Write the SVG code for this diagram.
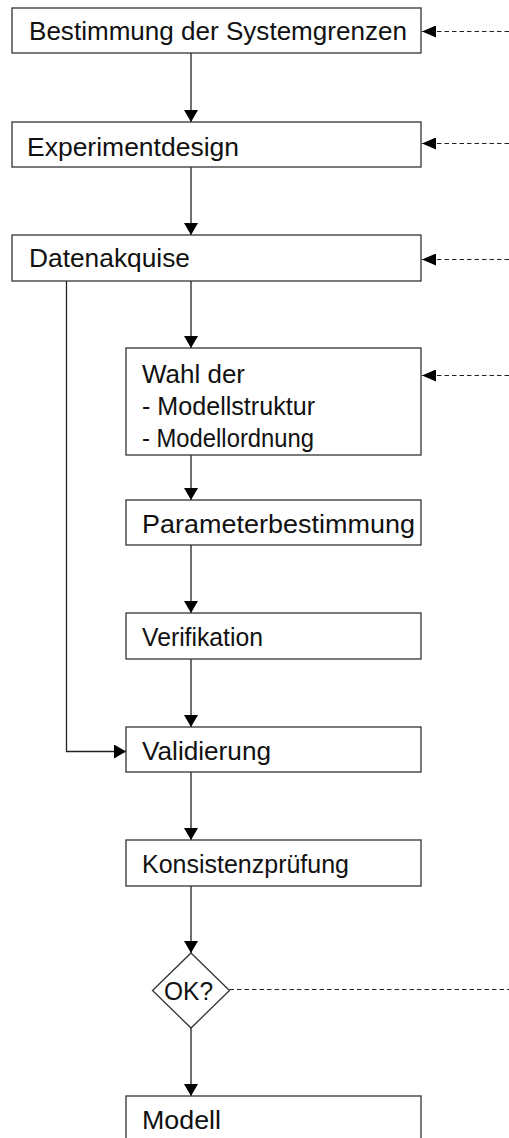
<svg xmlns="http://www.w3.org/2000/svg" width="509" height="1138" viewBox="0 0 509 1138">
  <style>
    .box { fill: #ffffff; stroke: #333333; stroke-width: 1.3; }
    .lbl { font-family: "Liberation Sans", Arial, sans-serif; font-size: 25px; fill: #111111; }
    .flow { fill: none; stroke: #222222; stroke-width: 1.3; }
    .back { fill: none; stroke: #222222; stroke-width: 1.1; stroke-dasharray: 4.5 3; }
  </style>
  <defs>
    <marker id="arrow" viewBox="0 0 12 14" refX="12" refY="7" markerWidth="12" markerHeight="14" markerUnits="userSpaceOnUse" orient="auto">
      <path d="M0,0 L12,7 L0,14 Z" fill="#000000"/>
    </marker>
    <marker id="arrowBack" viewBox="0 0 14 12" refX="14" refY="6" markerWidth="14" markerHeight="12" markerUnits="userSpaceOnUse" orient="auto">
      <path d="M0,0 L14,6 L0,12 Z" fill="#000000"/>
    </marker>
  </defs>

  <rect width="509" height="1138" fill="#ffffff"/>

  <!-- connectors -->
  <g id="connectors">
    <line class="flow" x1="191" y1="53" x2="191" y2="122" marker-end="url(#arrow)"/>
    <line class="flow" x1="191" y1="167" x2="191" y2="235" marker-end="url(#arrow)"/>
    <line class="flow" x1="191" y1="281" x2="191" y2="348" marker-end="url(#arrow)"/>
    <line class="flow" x1="191" y1="455" x2="191" y2="500" marker-end="url(#arrow)"/>
    <line class="flow" x1="191" y1="545" x2="191" y2="613" marker-end="url(#arrow)"/>
    <line class="flow" x1="191" y1="659" x2="191" y2="727" marker-end="url(#arrow)"/>
    <line class="flow" x1="191" y1="772" x2="191" y2="840" marker-end="url(#arrow)"/>
    <line class="flow" x1="191" y1="886" x2="191" y2="953" marker-end="url(#arrow)"/>
    <line class="flow" x1="191" y1="1028" x2="191" y2="1096" marker-end="url(#arrow)"/>
    <polyline class="flow" points="66.5,281 66.5,751.5 126,751.5" marker-end="url(#arrow)"/>

    <!-- feedback paths -->
    <line class="back" x1="509" y1="31.5" x2="422" y2="31.5" marker-end="url(#arrowBack)"/>
    <line class="back" x1="509" y1="143.5" x2="422" y2="143.5" marker-end="url(#arrowBack)"/>
    <line class="back" x1="509" y1="259.5" x2="422" y2="259.5" marker-end="url(#arrowBack)"/>
    <line class="back" x1="509" y1="375.5" x2="422" y2="375.5" marker-end="url(#arrowBack)"/>
    <line class="back" x1="229.5" y1="989.5" x2="509" y2="989.5"/>
  </g>

  <g id="systemgrenzen">
    <rect class="box" x="12" y="8" width="409" height="45"/>
    <text class="lbl" x="29" y="40" textLength="378" lengthAdjust="spacingAndGlyphs">Bestimmung der Systemgrenzen</text>
  </g>

  <g id="experimentdesign">
    <rect class="box" x="12" y="122" width="409" height="45"/>
    <text class="lbl" x="27" y="156" textLength="212" lengthAdjust="spacingAndGlyphs">Experimentdesign</text>
  </g>

  <g id="datenakquise">
    <rect class="box" x="12" y="235" width="409" height="46"/>
    <text class="lbl" x="29" y="267" textLength="161" lengthAdjust="spacingAndGlyphs">Datenakquise</text>
  </g>

  <g id="modellwahl">
    <rect class="box" x="126" y="348" width="295" height="107"/>
    <text class="lbl" x="142" y="383" textLength="103" lengthAdjust="spacingAndGlyphs">Wahl der</text>
    <text class="lbl" x="142" y="415" textLength="173" lengthAdjust="spacingAndGlyphs">- Modellstruktur</text>
    <text class="lbl" x="142" y="447" textLength="172" lengthAdjust="spacingAndGlyphs">- Modellordnung</text>
  </g>

  <g id="parameterbestimmung">
    <rect class="box" x="126" y="500" width="295" height="45"/>
    <text class="lbl" x="142" y="533" textLength="273" lengthAdjust="spacingAndGlyphs">Parameterbestimmung</text>
  </g>

  <g id="verifikation">
    <rect class="box" x="126" y="613" width="295" height="46"/>
    <text class="lbl" x="142" y="646" textLength="121" lengthAdjust="spacingAndGlyphs">Verifikation</text>
  </g>

  <g id="validierung">
    <rect class="box" x="126" y="727" width="295" height="45"/>
    <text class="lbl" x="142" y="760" textLength="129" lengthAdjust="spacingAndGlyphs">Validierung</text>
  </g>

  <g id="konsistenzpruefung">
    <rect class="box" x="126" y="840" width="295" height="46"/>
    <text class="lbl" x="142" y="873" textLength="207" lengthAdjust="spacingAndGlyphs">Konsistenzprüfung</text>
  </g>

  <g id="ok-entscheidung">
    <polygon class="box" points="191,953 229.5,990.5 191,1028 152.5,990.5"/>
    <text class="lbl" x="164" y="1000" textLength="49" lengthAdjust="spacingAndGlyphs">OK?</text>
  </g>

  <g id="modell">
    <rect class="box" x="126" y="1096" width="295" height="60"/>
    <text class="lbl" x="142" y="1129" textLength="79" lengthAdjust="spacingAndGlyphs">Modell</text>
  </g>
</svg>
